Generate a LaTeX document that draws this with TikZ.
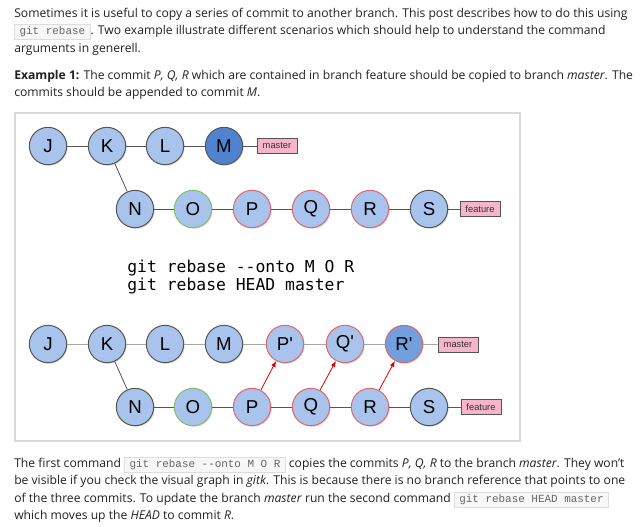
\documentclass[tikz,border=0pt]{standalone}
\usepackage{fontspec}
\setmainfont{Open Sans}
\setmonofont{Liberation Mono}
\newfontfamily\nodefont{Liberation Sans}
\newfontfamily\cmdfont{DejaVu Sans Mono}
\usetikzlibrary{shadows,arrows.meta}

\definecolor{commitblue}{HTML}{A9C4EC}
\definecolor{headblue}{HTML}{4F82CF}
\definecolor{newblue}{HTML}{729FDD}
\definecolor{ringgray}{HTML}{555555}
\definecolor{ringgreen}{HTML}{7DBF6B}
\definecolor{ringred}{HTML}{E0666B}
\definecolor{branchpink}{HTML}{F7B5CB}
\definecolor{codefill}{HTML}{F7F7F7}
\definecolor{codeborder}{HTML}{DDDDDD}
\definecolor{codetext}{HTML}{666666}
\definecolor{bodytext}{HTML}{222222}

\newcommand{\code}[1]{{\setlength{\fboxsep}{1pt}\setlength{\fboxrule}{0.5pt}%
  \fcolorbox{codeborder}{codefill}{\fontsize{8.2}{9}\selectfont\ttfamily\color{codetext}\strut\hspace{2.5pt}#1\hspace{2.5pt}}}}

\begin{document}
\begin{tikzpicture}[
    x=0.75pt, y=-0.75pt,
    line/.style={anchor=base west,inner sep=0pt,text=bodytext,font=\fontsize{9.1}{10}\selectfont},
    commit/.style={circle,draw=ringgray,line width=0.75pt,fill=commitblue,minimum size=28pt,
      inner sep=0pt,font=\nodefont\fontsize{14}{15}\selectfont,
      drop shadow={opacity=0.3,shadow xshift=0.8pt,shadow yshift=-0.8pt}},
    kept/.style={commit,draw=ringgreen},
    moved/.style={commit,draw=ringred},
    branch/.style={draw=ringgray,line width=0.6pt,fill=branchpink,minimum width=30pt,minimum height=11pt,
      inner sep=1pt,font=\nodefont\fontsize{7}{8}\selectfont,text=black!80,
      drop shadow={opacity=0.3,shadow xshift=0.8pt,shadow yshift=-0.8pt}},
    link/.style={draw=ringgray,line width=0.6pt},
    faint/.style={draw=gray!70,line width=0.6pt},
    copy/.style={draw=red!85!black,line width=0.6pt,-{Latex[length=4.5pt,width=3.5pt]}},
    cmd/.style={anchor=base west,inner sep=0pt,font=\cmdfont\fontsize{12.3}{14}\selectfont}
]
\useasboundingbox (0,0) rectangle (640,526);
\fill[white] (0,0) rectangle (640,526);

% intro text
\node[line] (intro1) at (14,17) {Sometimes it is useful to copy a series of commit to another branch. This post describes how to do this using};
\node[line] (intro2) at (14,34.5) {\code{git rebase}. Two example illustrate different scenarios which should help to understand the command};
\node[line] (intro3) at (14,52) {arguments in generell.};
\node[line] (ex1) at (14,79) {\textbf{Example 1:} The commit \textit{P, Q, R} which are contained in branch feature should be copied to branch \textit{master}. The};
\node[line] (ex2) at (14,96.5) {commits should be appended to commit \textit{M}.};

% frame
\draw[gray!30,line width=1.5pt,fill=white] (15,113) rectangle (520,441);

% before
\node[commit] (J) at (48,146) {J};
\node[commit] (K) at (107,146) {K};
\node[commit] (L) at (165,146) {L};
\node[commit,fill=headblue] (M) at (224,146) {M};
\node[branch] (master) at (277,146) {master};
\node[commit] (N) at (135,209) {N};
\node[kept] (O) at (193,209) {O};
\node[moved] (P) at (252,209) {P};
\node[moved] (Q) at (311,209) {Q};
\node[moved] (R) at (370,209) {R};
\node[commit] (S) at (429,209) {S};
\node[branch] (feature) at (480,209) {feature};

\draw[link] (J) -- (K);
\draw[link] (K) -- (L);
\draw[link] (L) -- (M);
\draw[link] (M) -- (master);
\draw[link] (K) -- (N);
\draw[link] (N) -- (O);
\draw[link] (O) -- (P);
\draw[link] (P) -- (Q);
\draw[link] (Q) -- (R);
\draw[link] (R) -- (S);
\draw[link] (S) -- (feature);

% commands
\node[cmd] (cmd1) at (127,272) {git rebase -{}-onto M O R};
\node[cmd] (cmd2) at (127,290) {git rebase HEAD master};

% after
\node[commit] (J2) at (48,344) {J};
\node[commit] (K2) at (107,344) {K};
\node[commit] (L2) at (165,344) {L};
\node[commit] (M2) at (224,344) {M};
\node[moved] (Pc) at (285,344) {P'};
\node[moved] (Qc) at (345,344) {Q'};
\node[moved,fill=newblue] (Rc) at (404,344) {R'};
\node[branch] (master2) at (458,345) {master};
\node[commit] (N2) at (135,407) {N};
\node[kept] (O2) at (193,407) {O};
\node[moved] (P2) at (252,407) {P};
\node[moved] (Q2) at (311,407) {Q};
\node[moved] (R2) at (370,407) {R};
\node[commit] (S2) at (429,407) {S};
\node[branch] (feature2) at (481,407) {feature};

\draw[faint] (J2) -- (K2);
\draw[faint] (K2) -- (L2);
\draw[faint] (L2) -- (M2);
\draw[faint] (M2) -- (Pc);
\draw[faint] (Pc) -- (Qc);
\draw[faint] (Qc) -- (Rc);
\draw[faint] (Rc) -- (master2);
\draw[link] (K2) -- (N2);
\draw[link] (N2) -- (O2);
\draw[link] (O2) -- (P2);
\draw[link] (P2) -- (Q2);
\draw[link] (Q2) -- (R2);
\draw[link] (R2) -- (S2);
\draw[link] (S2) -- (feature2);
\draw[copy] (P2) -- (Pc);
\draw[copy] (Q2) -- (Qc);
\draw[copy] (R2) -- (Rc);

% closing text
\node[line] (note1) at (14,467) {The first command \code{git rebase -{}-onto M O R} copies the commits \textit{P, Q, R} to the branch \textit{master}. They won't};
\node[line] (note2) at (14,484.5) {be visible if you check the visual graph in \textit{gitk}. This is because there is no branch reference that points to one};
\node[line] (note3) at (14,502) {of the three commits. To update the branch \textit{master} run the second command \code{git rebase HEAD master}};
\node[line] (note4) at (14,519.5) {which moves up the \textit{HEAD} to commit \textit{R}.};
\end{tikzpicture}
\end{document}
